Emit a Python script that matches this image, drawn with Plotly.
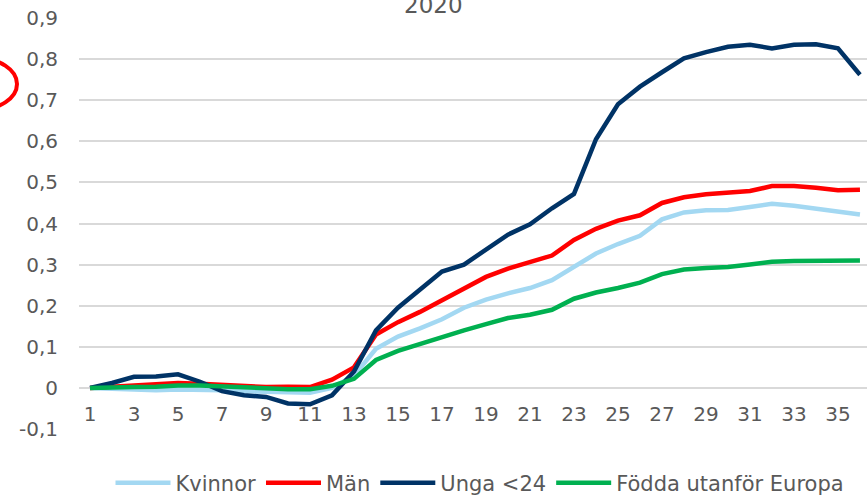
import plotly.graph_objects as go

weeks = list(range(1, 37))

kvinnor = [0, -0.002, -0.003, -0.006, -0.004, -0.004, -0.006, -0.008, -0.01, -0.012,
           -0.012, 0.0, 0.03, 0.095, 0.125, 0.145, 0.167, 0.195, 0.215, 0.23,
           0.243, 0.262, 0.295, 0.327, 0.35, 0.37, 0.41, 0.427, 0.432, 0.433,
           0.44, 0.448, 0.443, 0.436, 0.427, 0.422]
man = [0, 0.003, 0.008, 0.01, 0.012, 0.01, 0.007, 0.004, 0.002, 0.003,
       0.002, 0.02, 0.05, 0.13, 0.16, 0.185, 0.213, 0.242, 0.27, 0.29,
       0.305, 0.322, 0.36, 0.387, 0.407, 0.42, 0.45, 0.464, 0.471, 0.474,
       0.479, 0.491, 0.491, 0.487, 0.481, 0.482]
unga = [0, 0.012, 0.027, 0.028, 0.033, 0.015, -0.008, -0.018, -0.022, -0.038,
        -0.04, -0.018, 0.04, 0.14, 0.195, 0.238, 0.283, 0.3, 0.338, 0.373,
        0.398, 0.437, 0.472, 0.605, 0.69, 0.733, 0.768, 0.802, 0.817, 0.83,
        0.835, 0.826, 0.835, 0.836, 0.826, 0.762]
fodda = [0, 0, 0.002, 0.003, 0.006, 0.006, 0.004, 0.002, -0.002, -0.003,
         -0.003, 0.005, 0.022, 0.068, 0.09, 0.107, 0.123, 0.14, 0.155, 0.17,
         0.178, 0.19, 0.217, 0.232, 0.243, 0.256, 0.277, 0.288, 0.292, 0.294,
         0.3, 0.307, 0.309, 0.31, 0.309, 0.31]

series_names = ["Kvinnor", "Män", "Unga <24", "Födda utanför Europa"]
series_vals = [kvinnor, man, unga, fodda]
series_colors = ["#A3D8F2", "#FF0000", "#003366", "#00B050"]

x_tickvals = list(range(1, 36, 2))
x_ticktext = [str(v) for v in x_tickvals]
y_tickvals = [-0.1, 0, 0.1, 0.2, 0.3, 0.4, 0.5, 0.6, 0.7, 0.8, 0.9]
y_ticktext = ["-0,1", "0", "0,1", "0,2", "0,3", "0,4", "0,5", "0,6", "0,7", "0,8", "0,9"]

title_text = "2020"

FONT = "DejaVu Sans"
GREY = "#595959"
GRID = "#D9D9D9"

fig = go.Figure()
for name, vals, col in zip(series_names, series_vals, series_colors):
    fig.add_trace(go.Scatter(x=weeks, y=vals, name=name, mode="lines",
                             line=dict(color=col, width=4.5)))

W, H = 867, 495
L, R, T, B = 79, 0, 18, 66
pw, ph = W - L - R, H - T - B

def px2paper_x(px):
    return (px - L) / pw

def px2paper_y(py):
    return (H - B - py) / ph

fig.update_layout(
    width=W, height=H,
    margin=dict(l=L, r=R, t=T, b=B, pad=0, autoexpand=False),
    paper_bgcolor="white", plot_bgcolor="white",
    font=dict(family=FONT, color=GREY, size=20),
    showlegend=True,
    legend=dict(orientation="h", x=px2paper_x(480), xanchor="center",
                y=px2paper_y(483), yanchor="middle",
                font=dict(family=FONT, size=21, color=GREY),
                itemwidth=55, traceorder="normal", bgcolor="rgba(0,0,0,0)"),
    xaxis=dict(range=[0.5, 36.32], tickmode="array", tickvals=x_tickvals,
               ticktext=x_ticktext, showgrid=False, zeroline=False,
               showline=False, anchor="free", position=0.1,
               ticks="outside", ticklen=8, tickcolor="rgba(0,0,0,0)",
               tickfont=dict(family=FONT, size=20, color=GREY)),
    yaxis=dict(range=[-0.1, 0.9], tickmode="array", tickvals=y_tickvals,
               ticktext=y_ticktext, showgrid=True, gridcolor=GRID, gridwidth=1.5,
               zeroline=True, zerolinecolor=GRID, zerolinewidth=1.5,
               showline=False, ticks="outside", ticklen=16,
               tickcolor="rgba(0,0,0,0)",
               tickfont=dict(family=FONT, size=20, color=GREY)),
)

fig.add_annotation(text=title_text, xref="paper", yref="paper",
                   x=px2paper_x(433), y=px2paper_y(5), xanchor="center",
                   yanchor="middle", showarrow=False,
                   font=dict(family=FONT, size=23, color=GREY))

fig.add_shape(type="circle", xref="paper", yref="paper",
              x0=px2paper_x(-63), x1=px2paper_x(17),
              y0=px2paper_y(110), y1=px2paper_y(58),
              line=dict(color="#FF0000", width=4))

fig.write_html("out.html",
               config={"displayModeBar": False},
               post_script="document.body.style.margin='0px';"
                           "document.body.style.overflow='hidden';")
